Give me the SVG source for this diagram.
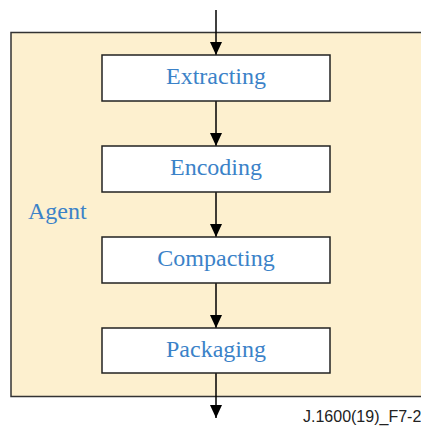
<svg xmlns="http://www.w3.org/2000/svg" width="421" height="428" viewBox="0 0 421 428">
<style>
.box{fill:#ffffff;stroke:#222;stroke-width:1.5}
.lbl{font-family:"Liberation Serif","Times New Roman",serif;font-size:24px;fill:#3b82c8;text-anchor:middle}
.conn{stroke:#000;stroke-width:1.5;fill:none}
</style>
<defs>
<marker id="ah" markerWidth="13" markerHeight="12" refX="13" refY="6" orient="auto" markerUnits="userSpaceOnUse">
<path d="M0,0 L13,6 L0,12 Z" fill="#000"/>
</marker>
</defs>
<g id="agent">
<rect x="11" y="32.5" width="412" height="364" fill="#fdf0cf" stroke="#333" stroke-width="1.5"/>
<text x="28" y="219" font-family="Liberation Serif, Times New Roman, serif" font-size="24" fill="#3b82c8">Agent</text>
</g>
<g id="connectors">
<line class="conn" x1="216" y1="10" x2="216" y2="55" marker-end="url(#ah)"/>
<line class="conn" x1="216" y1="101" x2="216" y2="146" marker-end="url(#ah)"/>
<line class="conn" x1="216" y1="192" x2="216" y2="237" marker-end="url(#ah)"/>
<line class="conn" x1="216" y1="283" x2="216" y2="328" marker-end="url(#ah)"/>
<line class="conn" x1="216" y1="373" x2="216" y2="418" marker-end="url(#ah)"/>
</g>
<g id="extracting">
<rect class="box" x="102" y="55" width="228" height="46"/>
<text class="lbl" x="216" y="84">Extracting</text>
</g>
<g id="encoding">
<rect class="box" x="102" y="146" width="228" height="46"/>
<text class="lbl" x="216" y="175">Encoding</text>
</g>
<g id="compacting">
<rect class="box" x="102" y="237" width="228" height="46"/>
<text class="lbl" x="216" y="266">Compacting</text>
</g>
<g id="packaging">
<rect class="box" x="102" y="328" width="228" height="45"/>
<text class="lbl" x="216" y="357">Packaging</text>
</g>
<text x="303" y="422" font-family="Liberation Sans, Arial, sans-serif" font-size="16" fill="#222">J.1600(19)_F7-2</text>
</svg>
